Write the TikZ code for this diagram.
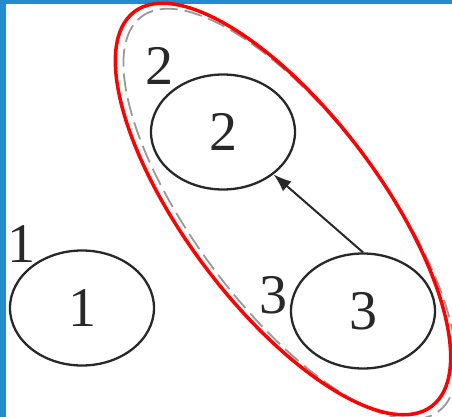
\documentclass[tikz,border=0pt]{standalone}
\usepackage{fontspec}
\setmainfont{Liberation Serif}
\usetikzlibrary{shapes.geometric,arrows.meta}
\definecolor{edgeblue}{RGB}{34,140,204}
\definecolor{ink}{RGB}{40,40,40}
\tikzset{
  vbox/.style={draw=ink, line width=2.3pt, ellipse, inner sep=0pt,
    minimum width=144pt, minimum height=115pt,
    font=\fontsize{56}{60}\selectfont, text=ink},
  vlabel/.style={inner sep=0pt, anchor=base, font=\fontsize{56}{60}\selectfont, text=ink},
  link/.style={draw=ink, line width=2pt, -{Latex[length=18pt,width=13pt]}},
  groupring/.style={draw=red, line width=3.5pt},
  groupshadow/.style={draw=gray!80, line width=1.8pt, dash pattern=on 18pt off 7pt}
}
\begin{document}
\begin{tikzpicture}[x=1pt,y=-1pt]
\useasboundingbox (0,0) rectangle (452,417);
\fill[white] (0,0) rectangle (452,417);
\fill[edgeblue] (0,0) rectangle (6,417);
\fill[edgeblue] (0,0) rectangle (452,4);
% group outlines
\draw[groupshadow, rotate around={-53:(290,214)}] (290,214) ellipse [x radius=247pt, y radius=94pt];
\draw[groupring, rotate around={-53:(283,209)}] (283,209) ellipse [x radius=247pt, y radius=97pt];
% vertices
\node[vbox] (n1) at (82,308) {1};
\node[vbox] (n2) at (223,132) {2};
\node[vbox] (n3) at (363,311) {3};
% outer labels
\node[vlabel] (l1) at (22,262) {1};
\node[vlabel] (l2) at (159,85) {2};
\node[vlabel] (l3) at (273,313) {3};
% edge
\draw[link] (n3.north) -- (n2.-40);
\end{tikzpicture}
\end{document}
